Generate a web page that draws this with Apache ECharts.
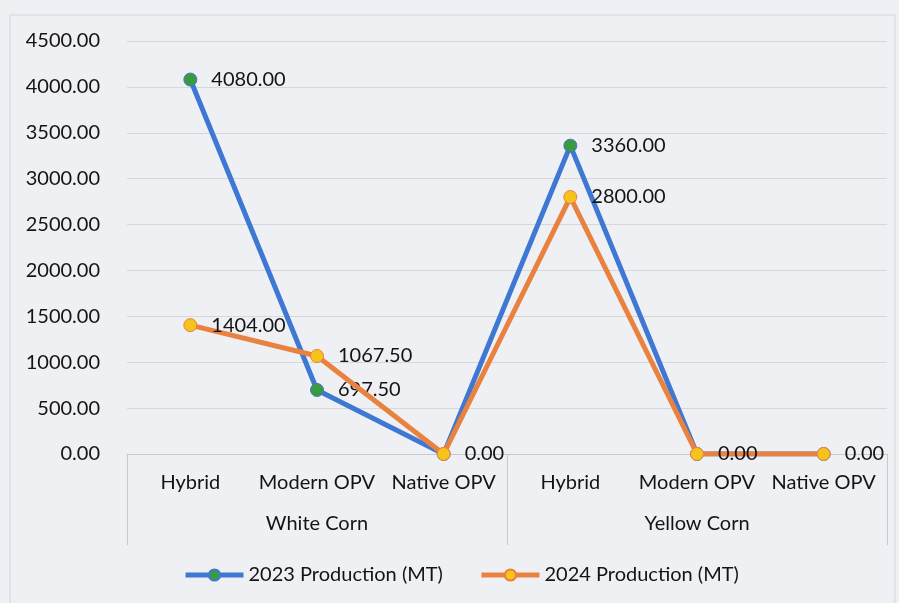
<!DOCTYPE html>
<html>
<head>
<meta charset="utf-8">
<script src="https://cdn.jsdelivr.net/npm/echarts@6/dist/echarts.min.js"></script>
<style>
  html, body { margin: 0; padding: 0; background: #eff0f4; }
  #chart { width: 899px; height: 603px; }
</style>
</head>
<body>
<div id="chart"></div>
<script>
// categories and values
var varieties = ['Hybrid', 'Modern OPV', 'Native OPV', 'Hybrid', 'Modern OPV', 'Native OPV'];
var cornGroups = ['White Corn', 'Yellow Corn'];
var prod2023 = [4080, 697.5, 0, 3360, 0, 0];
var prod2024 = [1404, 1067.5, 0, 2800, 0, 0];
var seriesNames = ['2023 Production (MT)', '2024 Production (MT)'];

var font = 'Lato';
var textColor = '#141414';
var fs = 20;

var myChart = echarts.init(document.getElementById('chart'));

var opt = {
    backgroundColor: '#eff0f4',
    textStyle: { fontFamily: font },
    graphic: [{
        type: 'rect',
        shape: { x: 10, y: 15, width: 885, height: 590 },
        style: { fill: 'none', stroke: '#d4d6dc', lineWidth: 1 },
        silent: true
    }],
    grid: {
        left: 127,
        right: 12,
        top: 41,
        bottom: 149
    },
    legend: {
        bottom: 13,
        left: 178,
        itemWidth: 58,
        itemHeight: 14,
        itemGap: 36,
        lineStyle: { width: 5 },
        textStyle: { fontSize: fs, color: textColor, fontFamily: font },
        data: seriesNames
    },
    xAxis: [{
        type: 'category',
        data: varieties,
        axisLine: { show: true, lineStyle: { color: '#c8c9cd', width: 1 } },
        axisTick: { show: false },
        axisLabel: { fontSize: fs, color: textColor, margin: 19, interval: 0 }
    }, {
        type: 'category',
        data: cornGroups,
        position: 'bottom',
        offset: 91,
        axisLine: { show: false },
        axisTick: { show: true, inside: true, length: 91, lineStyle: { color: '#c8c9cd' } },
        axisLabel: { inside: true, fontSize: fs, color: textColor, margin: 11 }
    }],
    yAxis: {
        type: 'value',
        min: 0,
        max: 4500,
        interval: 500,
        axisLine: { show: false },
        axisTick: { show: false },
        splitLine: { lineStyle: { color: '#d6d7db', width: 1 } },
        axisLabel: {
            fontSize: fs,
            color: textColor,
            margin: 27,
            formatter: function (v) { return v.toFixed(2); }
        }
    },
    series: [{
        name: seriesNames[0],
        type: 'line',
        data: prod2023,
        symbol: 'circle',
        symbolSize: 13,
        lineStyle: { color: '#3f78d2', width: 5 },
        itemStyle: { color: '#3a9a3e', borderColor: '#3f78d2', borderWidth: 1 },
        label: {
            show: true,
            position: 'right',
            distance: 14,
            fontSize: fs,
            color: textColor,
            formatter: function (p) { return p.value === 0 ? '' : p.value.toFixed(2); }
        },
        z: 2
    }, {
        name: seriesNames[1],
        type: 'line',
        data: prod2024,
        symbol: 'circle',
        symbolSize: 13,
        lineStyle: { color: '#e9813f', width: 5 },
        itemStyle: { color: '#f5c31c', borderColor: '#e9813f', borderWidth: 1 },
        label: {
            show: true,
            position: 'right',
            distance: 14,
            fontSize: fs,
            color: textColor,
            formatter: function (p) { return p.value.toFixed(2); }
        },
        z: 3
    }]
};

myChart.setOption(opt);
</script>
</body>
</html>
